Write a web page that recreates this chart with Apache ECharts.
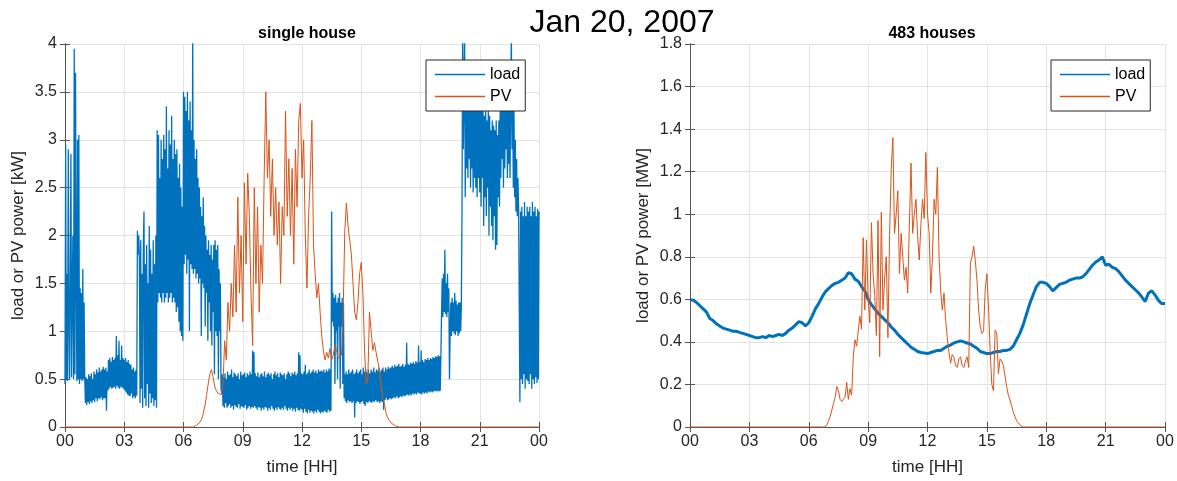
<!DOCTYPE html>
<html>
<head>
<meta charset="utf-8">
<title>Jan 20, 2007</title>
<script src="https://cdn.jsdelivr.net/npm/echarts@6/dist/echarts.min.js"></script>
<style>
  html, body { margin: 0; padding: 0; background: #fff; }
  #chart { width: 1177px; height: 481px; }
</style>
</head>
<body>
<div id="chart"></div>
<script>
// x axis ticks, in hours
const tickHours = [0, 3, 6, 9, 12, 15, 18, 21, 24];

// single house load [kW], one value every 2 min from 00:00 (two rows per hour)
const houseLoad = [
    0.45, 2.95, 0.5, 1.6, 0.48, 2.9, 1.2, 0.5, 1.5, 2.85, 0.52, 1.4, 2.0, 0.5, 3.95,
    0.55, 3.7, 1.6, 0.48, 3.0, 0.5, 3.05, 0.45, 1.45, 0.5, 1.4, 0.48, 1.65, 0.5, 1.3,
    0.5, 0.25, 0.52, 0.23, 0.5, 0.26, 0.55, 0.24, 0.53, 0.27, 0.56, 0.25, 0.5, 0.28, 0.58,
    0.26, 0.55, 0.3, 0.6, 0.27, 0.57, 0.3, 0.62, 0.29, 0.58, 0.31, 0.6, 0.28, 0.63, 0.3,
    0.6, 0.3, 0.62, 0.17, 0.58, 0.38, 0.7, 0.4, 0.72, 0.42, 0.68, 0.4, 0.73, 0.41, 0.7,
    0.42, 0.72, 0.4, 0.95, 0.43, 0.75, 0.41, 0.9, 0.4, 0.7, 0.42, 0.85, 0.41, 0.72, 0.4,
    0.7, 0.38, 0.72, 0.36, 0.68, 0.34, 0.7, 0.33, 0.66, 0.32, 0.65, 0.35, 0.6, 0.3, 0.62,
    0.32, 0.58, 0.3, 0.6, 0.33, 2.05, 1.8, 2.0, 1.75, 0.25, 1.95, 0.4, 1.6, 0.2, 1.9,
    2.25, 0.3, 1.7, 0.22, 1.9, 0.45, 1.5, 0.2, 2.1, 0.35, 1.85, 0.25, 1.6, 0.3, 1.95,
    0.22, 1.7, 0.28, 2.0, 0.2, 3.1, 1.3, 3.05, 1.4, 2.6, 1.35, 3.0, 1.3, 2.8, 1.4,
    3.05, 1.3, 2.9, 1.35, 3.35, 1.4, 2.7, 1.3, 3.1, 1.35, 2.95, 1.4, 3.25, 1.3, 2.8,
    1.35, 3.0, 1.3, 2.85, 1.2, 2.9, 1.25, 2.6, 1.1, 2.75, 1.0, 2.5, 0.95, 2.3, 0.9,
    3.5, 1.7, 3.45, 1.8, 3.3, 1.6, 3.5, 1.75, 3.2, 1.0, 3.4, 1.7, 3.1, 1.65, 4.1,
    1.6, 3.0, 1.65, 2.8, 1.55, 2.9, 1.6, 2.6, 1.5, 2.5, 1.55, 2.3, 0.95, 2.2, 1.5,
    2.4, 1.45, 2.1, 1.05, 2.0, 1.4, 1.85, 0.9, 1.95, 1.3, 1.8, 1.0, 1.9, 0.85, 1.75,
    1.2, 1.9, 0.55, 1.95, 1.0, 1.85, 0.95, 1.9, 0.5, 1.65, 1.0, 1.5, 0.4, 0.35, 0.55,
    0.22, 0.52, 0.2, 0.56, 0.25, 0.5, 0.2, 0.58, 0.22, 0.54, 0.24, 0.55, 0.2, 0.6, 0.22,
    0.52, 0.18, 0.57, 0.23, 0.55, 0.21, 0.53, 0.2, 0.56, 0.24, 0.5, 0.19, 0.58, 0.22, 0.54,
    0.21, 0.55, 0.2, 0.57, 0.23, 0.52, 0.18, 0.56, 0.2, 0.54, 0.22, 0.58, 0.19, 0.55, 0.21,
    0.8, 0.2, 0.78, 0.22, 0.56, 0.2, 0.53, 0.18, 0.57, 0.21, 0.52, 0.2, 0.55, 0.17, 0.56,
    0.2, 0.53, 0.18, 0.58, 0.21, 0.52, 0.2, 0.55, 0.17, 0.57, 0.2, 0.54, 0.18, 0.56, 0.22,
    0.5, 0.19, 0.55, 0.17, 0.58, 0.2, 0.54, 0.18, 0.56, 0.21, 0.52, 0.19, 0.57, 0.18, 0.55,
    0.2, 0.54, 0.18, 0.56, 0.22, 0.5, 0.19, 0.55, 0.17, 0.58, 0.2, 0.56, 0.18, 0.53, 0.2,
    0.57, 0.17, 0.55, 0.19, 0.58, 0.16, 0.54, 0.2, 0.56, 0.18, 0.78, 0.17, 0.75, 0.19, 0.56,
    0.18, 0.55, 0.15, 0.58, 0.19, 0.65, 0.16, 0.55, 0.14, 0.57, 0.18, 0.6, 0.15, 0.56, 0.17,
    0.58, 0.16, 0.6, 0.14, 0.57, 0.17, 0.59, 0.15, 0.56, 0.18, 0.6, 0.16, 0.58, 0.14, 0.59,
    0.16, 0.58, 0.15, 0.6, 0.17, 0.57, 0.16, 0.6, 0.15, 0.58, 0.18, 0.61, 0.16, 0.6, 0.17,
    2.25, 1.1, 1.4, 1.05, 1.35, 0.45, 1.38, 1.0, 1.3, 0.5, 1.35, 1.05, 1.4, 0.4, 1.3,
    1.05, 1.35, 0.45, 1.3, 0.3, 0.55, 0.27, 0.58, 0.25, 0.55, 0.28, 0.6, 0.26, 0.56, 0.27,
    0.58, 0.25, 0.6, 0.27, 0.55, 0.1, 0.57, 0.25, 0.6, 0.27, 0.56, 0.26, 0.58, 0.24, 0.6,
    0.26, 0.55, 0.27, 0.62, 0.24, 0.58, 0.22, 0.6, 0.26, 0.57, 0.25, 0.6, 0.27, 0.56, 0.26,
    0.6, 0.25, 0.58, 0.27, 0.62, 0.26, 0.57, 0.28, 0.6, 0.26, 0.59, 0.27, 0.62, 0.25, 0.58,
    0.27, 0.6, 0.26, 0.62, 0.18, 0.58, 0.28, 0.62, 0.3, 0.6, 0.28, 0.63, 0.29, 0.61, 0.3,
    0.62, 0.29, 0.64, 0.3, 0.62, 0.31, 0.65, 0.3, 0.63, 0.32, 0.64, 0.3, 0.66, 0.31, 0.63,
    0.32, 0.64, 0.31, 0.66, 0.33, 0.63, 0.32, 0.65, 0.33, 0.88, 0.34, 0.66, 0.33, 0.65, 0.34,
    0.67, 0.33, 0.66, 0.35, 0.68, 0.34, 0.66, 0.35, 0.69, 0.34, 0.67, 0.36, 0.85, 0.35, 0.68,
    0.35, 0.8, 0.34, 0.7, 0.36, 0.68, 0.35, 0.71, 0.36, 0.7, 0.35, 0.72, 0.37, 0.7, 0.36,
    0.72, 0.37, 0.71, 0.36, 0.73, 0.37, 0.72, 0.38, 0.74, 0.37, 0.73, 0.38, 0.75, 0.37, 0.74,
    0.38, 0.75, 1.2, 1.55, 1.15, 1.6, 1.2, 1.85, 1.18, 1.5, 1.15, 1.6, 1.2, 1.45, 0.5,
    1.0, 1.3, 0.95, 1.35, 1.0, 1.3, 0.98, 1.4, 0.96, 1.32, 1.0, 1.28, 0.95, 1.3, 0.98,
    1.3, 1.0, 1.25, 2.2, 4.1, 2.9, 3.5, 4.1, 2.4, 3.4, 2.7, 3.5, 2.6, 3.45, 2.8,
    3.4, 2.5, 3.5, 2.7, 3.3, 2.45, 3.45, 2.6, 3.35, 2.5, 3.4, 2.4, 3.3, 2.6, 3.45,
    2.45, 3.4, 2.3, 3.3, 2.6, 3.35, 2.1, 3.25, 2.4, 3.3, 2.2, 3.2, 2.5, 3.3, 2.0,
    3.25, 2.3, 3.1, 2.1, 3.2, 1.95, 3.15, 2.2, 3.1, 1.85, 3.2, 1.9, 3.05, 2.4, 3.2,
    2.3, 3.3, 2.6, 3.4, 2.8, 3.5, 2.5, 3.35, 2.7, 3.45, 2.9, 3.4, 2.6, 3.5, 2.75,
    3.3, 2.6, 3.4, 4.1, 2.9, 3.4, 2.5, 3.3, 2.4, 3.0, 2.25, 2.8, 2.2, 2.6, 2.3,
    2.3, 0.26, 2.25, 0.5, 2.3, 0.45, 2.2, 0.55, 2.35, 0.4, 2.2, 0.5, 2.3, 0.48, 2.25,
    0.45, 2.3, 0.55, 2.2, 0.4, 2.35, 0.5, 2.25, 0.45, 2.3, 0.52, 2.2, 0.46, 2.28, 0.5,
    2.25
];

// single house PV [kW], every 5 min from 06:30, zero outside
const housePvStart = 6.5;
const housePv = [
    0.0, 0.01, 0.02, 0.03, 0.05, 0.08,
    0.14, 0.22, 0.33, 0.45, 0.55, 0.6, 0.52, 0.42, 0.38, 0.35, 0.36, 0.34,
    0.45, 0.9, 0.7, 1.3, 1.0, 1.5, 1.15, 1.9, 1.2, 2.4, 1.4, 2.0,
    1.1, 2.55, 1.7, 2.65, 2.2, 1.4, 0.85, 2.5, 1.5, 2.3, 1.2, 1.9,
    1.5, 2.6, 3.5, 2.6, 3.0, 2.2, 2.8, 2.0, 2.5, 1.9, 2.35, 1.5,
    2.3, 2.0, 3.3, 2.2, 2.8, 2.0, 2.7, 1.7, 2.9, 2.3, 3.2, 3.38,
    2.6, 3.0, 2.0, 1.45, 2.2, 2.6, 3.2, 1.9, 1.6, 1.35, 1.5, 1.2,
    0.95, 0.8, 0.7, 0.78, 0.72, 0.82, 0.7, 0.75, 0.85, 0.8, 0.72, 0.7,
    0.75, 1.2, 2.05, 2.34, 2.1, 1.95, 1.8, 1.5, 1.2, 1.12, 1.3, 1.6,
    1.72, 1.4, 0.8, 0.45, 0.5, 1.2, 1.0, 0.8, 0.88, 0.78, 0.8, 0.6,
    0.45, 0.3, 0.25, 0.15, 0.1, 0.07, 0.05, 0.03, 0.02, 0.01, 0.01, 0,
    0
];

// 483 houses load [MW], every 10 min from 00:00
const areaLoad = [
    0.60, 0.595, 0.585, 0.57, 0.555, 0.54,
    0.51, 0.50, 0.485, 0.475, 0.465, 0.46,
    0.455, 0.45, 0.45, 0.445, 0.44, 0.435,
    0.43, 0.425, 0.42, 0.42, 0.425, 0.42,
    0.43, 0.425, 0.43, 0.435, 0.43, 0.44,
    0.455, 0.465, 0.48, 0.495, 0.49, 0.475,
    0.49, 0.52, 0.555, 0.58, 0.61, 0.635,
    0.65, 0.665, 0.675, 0.68, 0.69, 0.70,
    0.725, 0.72, 0.695, 0.685, 0.66, 0.64,
    0.60, 0.575, 0.555, 0.535, 0.52, 0.505,
    0.49, 0.47, 0.455, 0.435, 0.42, 0.405,
    0.39, 0.375, 0.365, 0.355, 0.35, 0.348,
    0.345, 0.35, 0.355, 0.36, 0.36, 0.37,
    0.38, 0.385, 0.395, 0.40, 0.405, 0.40,
    0.395, 0.39, 0.38, 0.37, 0.355, 0.35,
    0.345, 0.345, 0.35, 0.355, 0.355, 0.36,
    0.36, 0.365, 0.38, 0.41, 0.44, 0.48,
    0.53, 0.58, 0.62, 0.66, 0.68, 0.68,
    0.675, 0.66, 0.64, 0.655, 0.67, 0.675,
    0.68, 0.69, 0.695, 0.70, 0.70, 0.705,
    0.72, 0.74, 0.76, 0.775, 0.785, 0.80,
    0.76, 0.765, 0.75, 0.745, 0.73, 0.71,
    0.69, 0.675, 0.66, 0.645, 0.63, 0.61,
    0.59, 0.63, 0.64, 0.62, 0.595, 0.58,
    0.58
];

// 483 houses PV [MW], every 5 min from 06:30
const areaPvStart = 6.5;
const areaPv = [
    0, 0, 0, 0, 0, 0.01,
    0.03, 0.05, 0.08, 0.11, 0.14, 0.19, 0.17, 0.13, 0.12, 0.12, 0.14, 0.21,
    0.13, 0.18, 0.15, 0.33, 0.41, 0.38, 0.45, 0.52, 0.46, 0.89, 0.55, 0.88,
    0.6, 0.49, 0.96, 0.72, 0.62, 0.43, 0.97, 0.33, 1.01, 0.55, 0.7, 0.8,
    0.42, 0.9, 1.21, 1.36, 0.91, 1.0, 1.11, 0.72, 0.91, 0.8, 0.69, 0.75,
    0.63, 0.95, 1.24, 0.91, 1.0, 1.07, 0.9, 0.785, 0.95, 1.07, 0.98, 1.29,
    1.0, 0.91, 0.63, 0.8, 1.07, 1.0, 1.22, 0.8, 0.64, 0.55, 0.63, 0.5,
    0.42, 0.35, 0.3, 0.34, 0.33, 0.29, 0.28, 0.32, 0.33, 0.29, 0.28, 0.31,
    0.33, 0.28, 0.77, 0.8, 0.85, 0.78, 0.69, 0.55, 0.47, 0.44, 0.45, 0.65,
    0.72, 0.565, 0.35, 0.2, 0.17, 0.456, 0.44, 0.25, 0.32, 0.31, 0.29, 0.24,
    0.19, 0.15, 0.127, 0.1, 0.07, 0.05, 0.03, 0.02, 0.01, 0.005, 0, 0,
    0
];

const loadColor = '#0072BD';
const pvColor = '#D95319';
const textColor = '#262626';
const fontFamily = '"Liberation Sans", Arial, Helvetica, sans-serif';

function toPoints(values, start, step) {
    return values.map((v, i) => [start + i * step, v]);
}

function pvPoints(values, start) {
    return [[0, 0], ...toPoints(values, start, 1 / 12), [24, 0]];
}

function hourLabel(v) {
    return String(v % 24).padStart(2, '0');
}

function mainX(gridIndex) {
    return {
        type: 'value', gridIndex: gridIndex, min: tickHours[0],
        max: tickHours[tickHours.length - 1], interval: 3,
        name: 'time [HH]', nameLocation: 'middle', nameGap: 32,
        nameTextStyle: { color: textColor, fontSize: 17, fontFamily },
        axisLine: { show: true, lineStyle: { color: '#555', width: 1 } },
        axisTick: { show: true, inside: true, length: 5, lineStyle: { color: '#555' } },
        axisLabel: { color: textColor, fontSize: 16, fontFamily, margin: 7, formatter: hourLabel },
        splitLine: { show: true, lineStyle: { color: '#e3e3e3', width: 1 } },
    };
}

function topX(gridIndex) {
    return {
        type: 'value', gridIndex: gridIndex, position: 'top', min: 0, max: 24, interval: 3,
        axisLine: { show: true, lineStyle: { color: '#555', width: 1 } },
        axisTick: { show: true, inside: true, length: 5, lineStyle: { color: '#555' } },
        axisLabel: { show: false }, splitLine: { show: false },
    };
}

function mainY(gridIndex, max, interval, name) {
    return {
        type: 'value', gridIndex: gridIndex, min: 0, max: max, interval: interval,
        name: name, nameLocation: 'middle', nameGap: 38,
        nameTextStyle: { color: textColor, fontSize: 17, fontFamily },
        axisLine: { show: true, lineStyle: { color: '#555', width: 1 } },
        axisTick: { show: true, inside: true, length: 5, lineStyle: { color: '#555' } },
        axisLabel: { color: textColor, fontSize: 16, fontFamily, margin: 8 },
        splitLine: { show: true, lineStyle: { color: '#e3e3e3', width: 1 } },
    };
}

function rightY(gridIndex, max, interval) {
    return {
        type: 'value', gridIndex: gridIndex, position: 'right', min: 0, max: max, interval: interval,
        axisLine: { show: true, lineStyle: { color: '#555', width: 1 } },
        axisTick: { show: true, inside: true, length: 5, lineStyle: { color: '#555' } },
        axisLabel: { show: false }, splitLine: { show: false },
    };
}

function lineSeries(name, color, xi, yi, data, width) {
    return {
        name: name, type: 'line', xAxisIndex: xi, yAxisIndex: yi, data: data,
        showSymbol: false, symbol: 'none', sampling: null, clip: true,
        lineStyle: { color: color, width: width }, itemStyle: { color: color },
    };
}

function legendAt(left) {
    return {
        data: ['load', 'PV'], orient: 'vertical', left: left, top: 60,
        icon: 'rect', itemWidth: 50, itemHeight: 1.5, itemGap: 3,
        padding: [5, 5, 5, 9], backgroundColor: '#fff',
        borderColor: '#262626', borderWidth: 1, borderRadius: 0,
        selectedMode: false,
        textStyle: { color: '#000', fontSize: 16, fontFamily, lineHeight: 19 },
    };
}

const chart = echarts.init(document.getElementById('chart'), null, { renderer: 'canvas' });

chart.setOption({
    animation: false,
    backgroundColor: '#fff',
    title: [
        { text: 'Jan 20, 2007', left: 617, top: 2, textAlign: 'center',
          textStyle: { fontSize: 32, fontWeight: 'normal', color: '#000', fontFamily } },
        { text: 'single house', left: 302, top: 21, textAlign: 'center',
          textStyle: { fontSize: 16, fontWeight: 'bold', color: '#000', fontFamily } },
        { text: '483 houses', left: 927, top: 21, textAlign: 'center',
          textStyle: { fontSize: 16, fontWeight: 'bold', color: '#000', fontFamily } },
    ],
    legend: [legendAt(426), legendAt(1051)],
    grid: [
        { left: 65, top: 44, width: 474, height: 383 },
        { left: 690, top: 44, width: 475, height: 383 },
    ],
    xAxis: [mainX(0), mainX(1), topX(0), topX(1)],
    yAxis: [
        mainY(0, 4, 0.5, 'load or PV power [kW]'),
        mainY(1, 1.8, 0.2, 'load or PV power [MW]'),
        rightY(0, 4, 0.5),
        rightY(1, 1.8, 0.2),
    ],
    series: [
        lineSeries('load', loadColor, 0, 0, toPoints(houseLoad, 0, 1 / 30), 1.3),
        lineSeries('PV', pvColor, 0, 0, pvPoints(housePv, housePvStart), 1),
        lineSeries('load', loadColor, 1, 1, toPoints(areaLoad, 0, 1 / 6), 3),
        lineSeries('PV', pvColor, 1, 1, pvPoints(areaPv, areaPvStart), 1),
    ],
});
</script>
</body>
</html>
